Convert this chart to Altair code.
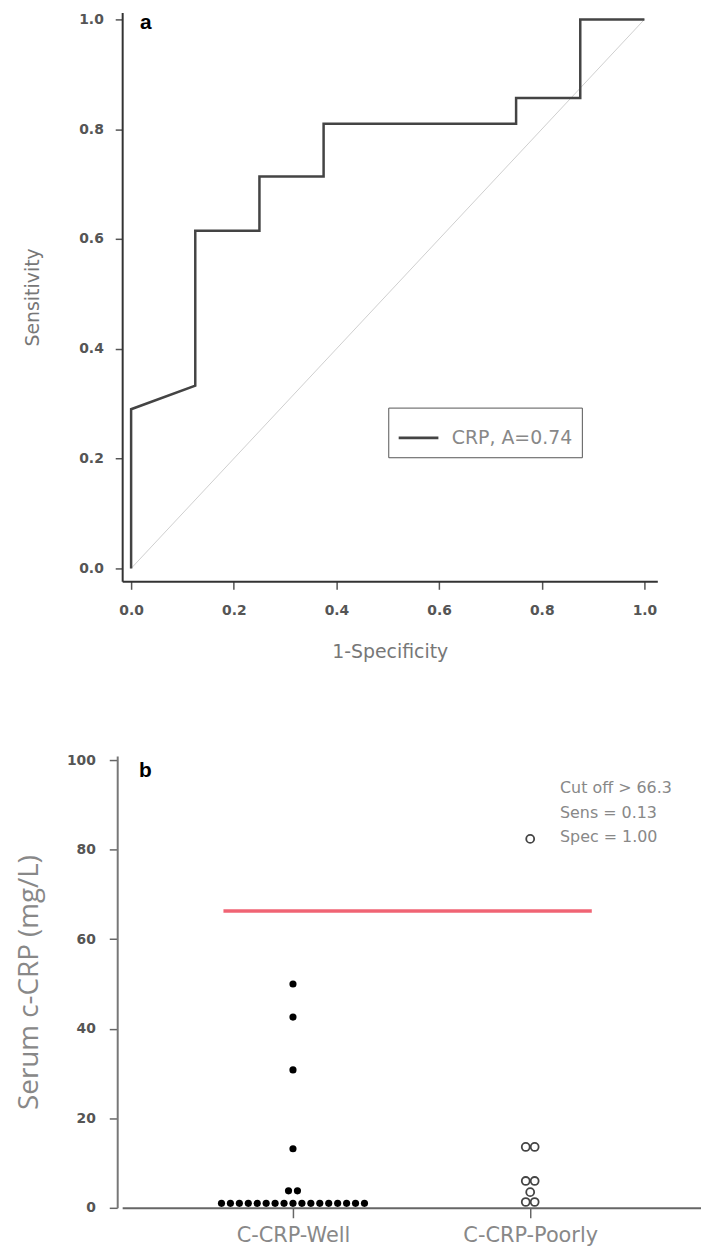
import altair as alt
import pandas as pd

# ---------------- Panel a: ROC curve ----------------
roc_fpr = [0.0, 0.0, 0.125, 0.125, 0.25, 0.25, 0.375, 0.375, 0.75, 0.75, 0.875, 0.875, 1.0]
roc_tpr = [0.0, 0.29, 0.333, 0.615, 0.615, 0.714, 0.714, 0.81, 0.81, 0.857, 0.857, 1.0, 1.0]
roc_label = "CRP, A=0.74"
ref_fpr = [0.0, 1.0]
ref_tpr = [0.0, 1.0]
ticks_a = [0.0, 0.2, 0.4, 0.6, 0.8, 1.0]

# ---------------- Panel b: dot plot ----------------
groups = ["C-CRP-Well", "C-CRP-Poorly"]
well_values = [50.0, 42.6, 30.8, 13.2, 3.8, 3.8,
               1.0, 1.0, 1.0, 1.0, 1.0, 1.0, 1.0, 1.0, 1.0,
               1.0, 1.0, 1.0, 1.0, 1.0, 1.0, 1.0, 1.0]
poorly_values = [82.4, 13.6, 13.6, 6.0, 6.0, 3.5, 1.3, 1.3]
cutoff = 66.3
sens = 0.13
spec = 1.00
ticks_b = [0, 20, 40, 60, 80, 100]

TICK_FONT = "DejaVu Sans"

# ---------- top chart ----------
roc_df = pd.DataFrame({"fpr": roc_fpr, "tpr": roc_tpr,
                       "order": list(range(len(roc_fpr))), "series": roc_label})
ref_df = pd.DataFrame({"fpr": ref_fpr, "tpr": ref_tpr})

xs_a = alt.Scale(domain=[-0.0174, 1.0251], nice=False, zero=False)
ys_a = alt.Scale(domain=[-0.0235, 1.0127], nice=False, zero=False)

x_axis_a = alt.Axis(values=ticks_a, format=".1f", title="1-Specificity", grid=False,
                    domainColor="#333", domainWidth=2, tickColor="#555", tickSize=8,
                    tickWidth=1.5, labelFont=TICK_FONT, labelFontWeight="bold",
                    labelFontSize=14, labelColor="#555", labelPadding=14,
                    titleFont=TICK_FONT, titleFontSize=19, titleFontWeight="normal",
                    titleColor="#777", titlePadding=26)
y_axis_a = alt.Axis(values=ticks_a, format=".1f", title="Sensitivity", grid=False,
                    domainColor="#333", domainWidth=2, tickColor="#555", tickSize=7,
                    tickWidth=1.5, labelFont=TICK_FONT, labelFontWeight="bold",
                    labelFontSize=14, labelColor="#555", labelPadding=12,
                    titleFont=TICK_FONT, titleFontSize=19, titleFontWeight="normal",
                    titleColor="#777", titlePadding=36)

diag = alt.Chart(ref_df).mark_line(color="#cfcfcf", strokeWidth=1).encode(
    x=alt.X("fpr:Q", scale=xs_a, axis=x_axis_a),
    y=alt.Y("tpr:Q", scale=ys_a, axis=y_axis_a),
)
roc = alt.Chart(roc_df).mark_line(strokeWidth=2.5).encode(
    x=alt.X("fpr:Q", scale=xs_a, axis=x_axis_a),
    y=alt.Y("tpr:Q", scale=ys_a, axis=y_axis_a),
    order="order:Q",
    color=alt.Color("series:N", scale=alt.Scale(range=["#444444"]),
                    legend=alt.Legend(title=None, orient="none", legendX=268, legendY=398,
                                      strokeColor="#555", fillColor="white", padding=9,
                                      symbolType="stroke", symbolSize=1600,
                                      symbolStrokeWidth=3, labelFont=TICK_FONT,
                                      labelFontSize=19, labelColor="#888", labelOffset=12)),
)
label_a = alt.Chart(pd.DataFrame({"t": ["a"]})).mark_text(
    align="left", baseline="middle", fontSize=21, fontWeight="bold",
    font="Liberation Sans", color="black").encode(
    x=alt.value(18), y=alt.value(11), text="t:N")

top = alt.layer(diag, roc, label_a).properties(width=539, height=573)

# ---------- bottom chart ----------
pts = pd.DataFrame({
    "group": [groups[0]] * len(well_values) + [groups[1]] * len(poorly_values),
    "value": well_values + poorly_values,
})
pts["n"] = pts.groupby(["group", "value"])["value"].transform("count")
pts["k"] = pts.groupby(["group", "value"]).cumcount()
pts["slot"] = pts["k"] - (pts["n"] - 1) / 2

xs_b = alt.Scale(type="point", domain=groups, padding=0.72)
ys_b = alt.Scale(domain=[0, 100.9], nice=False, zero=False)
xoff = alt.XOffset("slot:Q", scale=alt.Scale(domain=[-1, 1], range=[-9, 9]))

x_axis_b = alt.Axis(title=None, domainColor="#666", domainWidth=2, tickColor="#666",
                    tickSize=10, tickWidth=1.5, labelFont=TICK_FONT, labelFontSize=21,
                    labelColor="#888", labelPadding=7, labelAngle=0)
y_axis_b = alt.Axis(values=ticks_b, title="Serum c-CRP (mg/L)", grid=False, offset=5,
                    domainColor="#777", domainWidth=2, tickColor="#666", tickSize=8,
                    tickWidth=1.5, labelFont=TICK_FONT, labelFontWeight="bold",
                    labelFontSize=14, labelColor="#555", labelPadding=14,
                    titleFont="Open Sans", titleFontSize=28, titleFontWeight="normal",
                    titleColor="#888", titlePadding=23)

base_b = alt.Chart(pts)
well = base_b.transform_filter(alt.datum.group == groups[0]).mark_circle(
    size=52, color="black", opacity=1).encode(
    x=alt.X("group:N", scale=xs_b, axis=x_axis_b, sort=groups),
    y=alt.Y("value:Q", scale=ys_b, axis=y_axis_b),
    xOffset=xoff,
)
poorly = base_b.transform_filter(alt.datum.group == groups[1]).mark_point(
    filled=False, size=64, strokeWidth=1.8, color="#444", opacity=1).encode(
    x=alt.X("group:N", scale=xs_b, axis=x_axis_b, sort=groups),
    y=alt.Y("value:Q", scale=ys_b, axis=y_axis_b),
    xOffset=xoff,
)
cut_rule = alt.Chart(pd.DataFrame({"cut": [cutoff]})).mark_rule(
    color="#f06474", strokeWidth=3.5).encode(
    y=alt.Y("cut:Q", scale=ys_b, axis=y_axis_b),
    x=alt.value(102), x2=alt.value(473))
note = alt.Chart(pd.DataFrame({
    "t": [f"Cut off > {cutoff}\nSens = {sens:.2f}\nSpec = {spec:.2f}"]})).mark_text(
    align="left", baseline="top", fontSize=16, lineHeight=25, lineBreak="\n",
    font=TICK_FONT, color="#888").encode(
    x=alt.value(441), y=alt.value(24), text="t:N")
label_b = alt.Chart(pd.DataFrame({"t": ["b"]})).mark_text(
    align="left", baseline="middle", fontSize=21, fontWeight="bold",
    font="Liberation Sans", color="black").encode(
    x=alt.value(17), y=alt.value(15), text="t:N")

bottom = alt.layer(cut_rule, well, poorly, note, label_b).properties(width=583, height=455)

chart = alt.vconcat(top, bottom, spacing=92).properties(
    padding={"left": 7, "top": 0, "right": 0, "bottom": 0}
).configure_view(stroke=None)

chart.save("out.html", embed_options={"renderer": "svg", "actions": False})
